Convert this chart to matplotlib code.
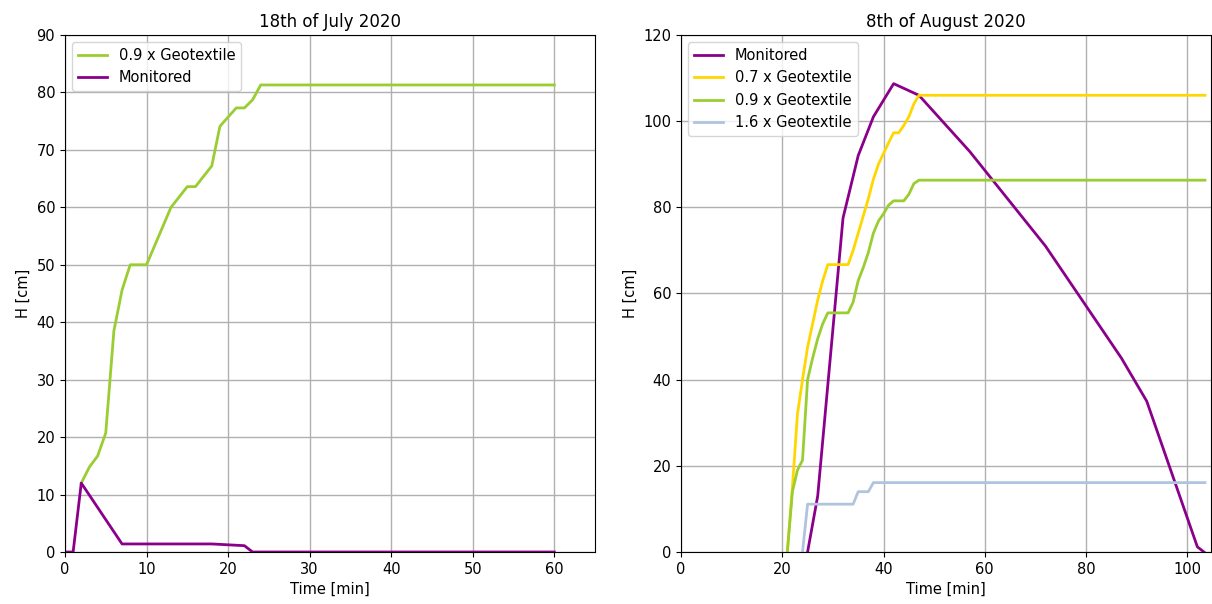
import matplotlib
matplotlib.use("Agg")
import matplotlib.pyplot as plt

# 18th of July 2020
jul_geo09_t = [2, 3, 4, 5, 6, 7, 8, 10, 13, 15, 16, 18, 19, 21, 22, 23, 24, 60]
jul_geo09_h = [12, 14.8, 16.7, 20.7, 38.5, 45.6, 50, 50, 60, 63.6, 63.6, 67.2, 74.1, 77.3, 77.3, 78.7, 81.3, 81.3]
jul_mon_t = [0, 1, 2, 7, 18, 22, 23, 60]
jul_mon_h = [0, 0, 12, 1.4, 1.4, 1.1, 0, 0]

# 8th of August 2020
aug_mon_t = [25, 27, 32, 35, 38, 42, 47, 57, 72, 87, 92, 102, 103.3]
aug_mon_h = [0, 13, 77.5, 92, 101, 108.7, 106, 93, 71, 45, 35, 1.2, 0]
aug_geo07_t = [21, 22, 23, 24, 25, 26, 27, 28, 29, 33, 34, 35, 36, 37, 38, 39, 40, 41, 42, 43, 44, 45, 46, 47, 103.5]
aug_geo07_h = [0, 15, 32, 40, 47.5, 53, 58.5, 63, 66.7, 66.7, 70, 74, 78, 82, 86.5, 90, 92.5, 95, 97.3, 97.3, 99, 101, 104, 106, 106]
aug_geo09_t = [21, 22, 23, 24, 25, 26, 27, 28, 29, 33, 34, 35, 36, 37, 38, 39, 40, 41, 42, 44, 45, 46, 47, 103.5]
aug_geo09_h = [0, 14, 19, 21.3, 40, 45, 49.5, 53, 55.5, 55.5, 58, 63, 66, 69.5, 74, 76.8, 78.5, 80.5, 81.5, 81.5, 83, 85.5, 86.3, 86.3]
aug_geo16_t = [24, 25, 34, 35, 37, 38, 103.5]
aug_geo16_h = [0, 11.1, 11.1, 14, 14, 16.1, 16.1]

purple = '#8b008b'
green = '#9acd32'
yellow = '#ffd700'
blue = '#b0c4de'

fig = plt.figure(figsize=(12.12, 6.04), dpi=100)
ax1 = fig.add_axes([0.0536, 0.0861, 0.4374, 0.856])
ax2 = fig.add_axes([0.5619, 0.0861, 0.4373, 0.856])

ax1.plot(jul_geo09_t, jul_geo09_h, c=green, linewidth=2, label='0.9 x Geotextile')
ax1.plot(jul_mon_t, jul_mon_h, c=purple, linewidth=2, label='Monitored')
ax1.set_xlim(0, 65)
ax1.set_ylim(0, 90)
ax1.set_title('18th of July 2020', fontsize=12)

ax2.plot(aug_mon_t, aug_mon_h, c=purple, linewidth=2, label='Monitored')
ax2.plot(aug_geo07_t, aug_geo07_h, c=yellow, linewidth=2, label='0.7 x Geotextile')
ax2.plot(aug_geo09_t, aug_geo09_h, c=green, linewidth=2, label='0.9 x Geotextile')
ax2.plot(aug_geo16_t, aug_geo16_h, c=blue, linewidth=2, label='1.6 x Geotextile')
ax2.set_xlim(0, 104.7)
ax2.set_ylim(0, 120)
ax2.set_title('8th of August 2020', fontsize=12)

for ax in (ax1, ax2):
    ax.grid(True, color='#b0b0b0', linewidth=1)
    ax.set_xlabel('Time [min]', fontsize=10.5)
    ax.set_ylabel('H [cm]', fontsize=10.5)
    ax.tick_params(labelsize=10.5)
    ax.legend(loc='upper left', fontsize=10.5)

fig.savefig('out.png', dpi=100)
